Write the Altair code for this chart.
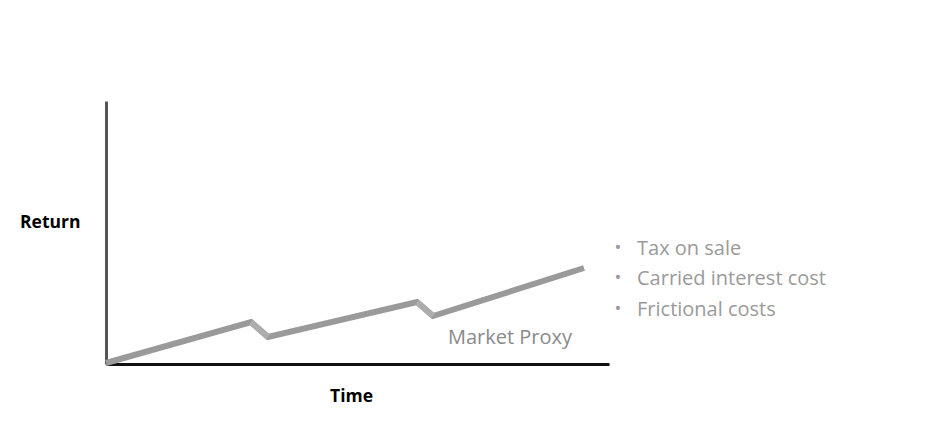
import altair as alt
import pandas as pd

# Market proxy path (time, return)
time_vals = [0, 145, 162, 311, 327, 478]
return_vals = [1, 42, 27, 62, 48, 96]
# which points start a "drop" segment
drop_starts = [1, 3]

bullet_items = ["Tax on sale", "Carried interest cost", "Frictional costs"]
line_label = ["Market Proxy"]

X_MAX = 503
Y_MAX = 263

path = pd.DataFrame({"t": time_vals, "r": return_vals, "order": range(len(time_vals))})
drops = []
for i in drop_starts:
    drops.append({"t": time_vals[i], "r": return_vals[i], "t2": time_vals[i + 1], "r2": return_vals[i + 1]})
drops = pd.DataFrame(drops)

xs = alt.Scale(domain=[0, X_MAX], nice=False, zero=False)
ys = alt.Scale(domain=[0, Y_MAX], nice=False, zero=False)

title_font = "Open Sans"
font = "Open Sans"

x_axis = alt.Axis(labels=False, ticks=False, grid=False, domainColor="#111111", domainWidth=3,
                  title="Time", titleFont=title_font, titleFontSize=17.5, titleFontWeight="bold",
                  titleColor="#000000", titleX=245, titleY=23)
y_axis = alt.Axis(labels=False, ticks=False, grid=False, domainColor="#555555", domainWidth=3,
                  title="Return", titleFont=title_font, titleFontSize=17.5, titleFontWeight="bold",
                  titleColor="#000000", titleAngle=0, titleAlign="right", titleBaseline="middle",
                  titleX=-26, titleY=121)

line = alt.Chart(path).mark_line(color="#9a9a9a", strokeWidth=6, strokeJoin="miter", strokeCap="butt").encode(
    x=alt.X("t:Q", scale=xs, axis=x_axis),
    y=alt.Y("r:Q", scale=ys, axis=y_axis),
    order="order:Q",
)

drop_line = alt.Chart(drops).mark_rule(color="#adadad", strokeWidth=6, strokeCap="butt").encode(
    x=alt.X("t:Q", scale=xs), x2="t2:Q",
    y=alt.Y("r:Q", scale=ys), y2="r2:Q",
)

layers = [line, drop_line]
bullet_y = [148, 178, 209]
for item, yy in zip(bullet_items, bullet_y):
    df = pd.DataFrame({"item": [item]})
    layers.append(alt.Chart(df).mark_text(
        font=font, fontSize=20, color="#9a9a9a", align="left", baseline="middle"
    ).encode(text="item:N", x=alt.value(531), y=alt.value(yy)))
    layers.append(alt.Chart(df).mark_text(
        font=font, fontSize=18, color="#9a9a9a", align="center", baseline="middle", text="•"
    ).encode(x=alt.value(512), y=alt.value(yy)))

layers.append(alt.Chart(pd.DataFrame({"label": line_label})).mark_text(
    font=font, fontSize=20, color="#8a8a8a", align="left", baseline="middle"
).encode(text="label:N", x=alt.value(342), y=alt.value(237)))

chart = alt.layer(*layers).properties(
    width=503, height=263,
    background="white",
    autosize=alt.AutoSizeParams(type="none"),
    padding={"left": 98, "top": 93, "right": 319, "bottom": 53},
).configure_view(stroke="transparent", strokeWidth=0)

chart.save("out.html", embed_options={"renderer": "svg", "actions": False})
